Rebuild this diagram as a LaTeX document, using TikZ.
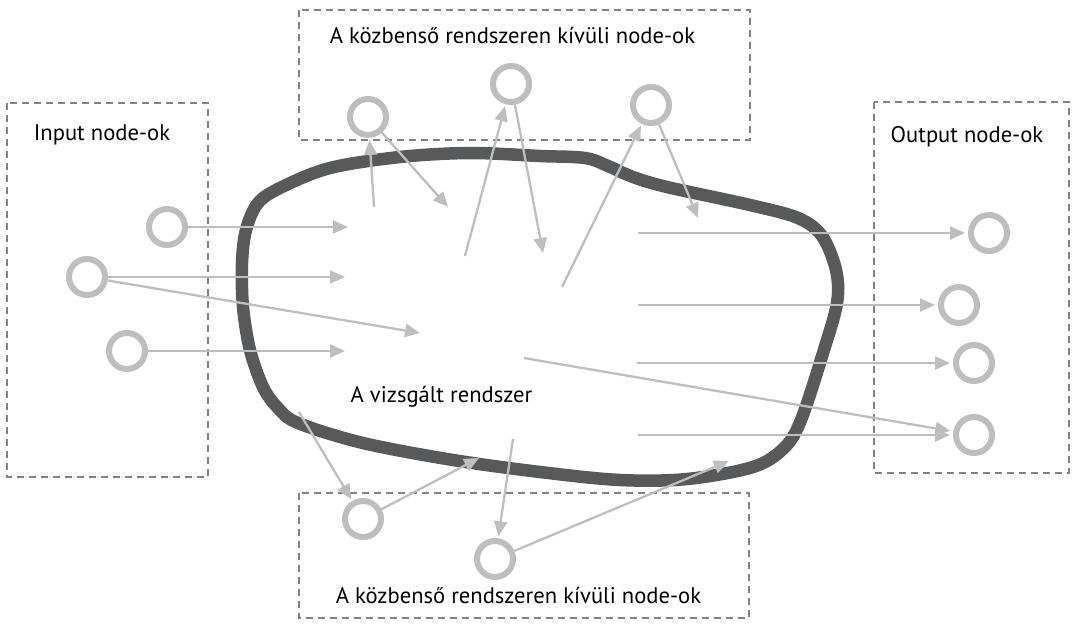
\documentclass[tikz,border=0pt]{standalone}
\usepackage{fontspec}
\setmainfont{PT Sans}
\usetikzlibrary{arrows.meta}
\definecolor{blobgray}{HTML}{58595B}
\definecolor{lightg}{HTML}{BCBEC0}
\definecolor{boxgray}{HTML}{808285}
\begin{document}
\begin{tikzpicture}[x=1pt,y=-1pt,
  dashbox/.style={draw=boxgray,line width=2pt,dash pattern=on 7pt off 5pt},
  nd/.style={circle,draw=lightg,line width=6pt,minimum size=36pt,inner sep=0pt},
  conn/.style={draw=lightg,line width=2.3pt,-{Triangle[length=15pt,width=13pt]}},
  lbl/.style={anchor=base,font=\fontsize{22.6}{26}\selectfont,text=black,inner sep=0pt}]
\path[fill=white] (0,0) rectangle (1076,624);
\useasboundingbox (0,0) rectangle (1076,624);
% dashed group boxes
\draw[dashbox] (7,103) rectangle (208,477);
\draw[dashbox] (299,10) rectangle (750,140);
\draw[dashbox] (874,102) rectangle (1069,473);
\draw[dashbox] (299,493) rectangle (749,618);
% the system outline
\draw[blobgray,line width=12.5pt,line join=round] plot[smooth cycle,tension=0.55] coordinates {
 (242,263) (246,230) (258,203) (282,187) (330,168) (400,157) (470,153) (540,156)
 (585,158) (608,166) (633,177) (667,187) (750,205) (798,218) (822,236) (836,270)
 (837,303) (823,353) (801,420) (784,448) (753,467) (687,479) (620,480) (540,472)
 (453,460) (363,443) (298,423) (278,408) (263,387) (250,350) (243,307)};
% labels
\node[lbl] (ttop) at (512.5,43) {A közbenső rendszeren kívüli node-ok};
\node[lbl] (tbot) at (518.5,603) {A közbenső rendszeren kívüli node-ok};
\node[lbl] (tin) at (102,140) {Input node-ok};
\node[lbl] (tout) at (967,142) {Output node-ok};
\node[lbl] (tsys) at (441.5,402) {A vizsgált rendszer};
% nodes
\node[nd] (i1) at (167,227) {};
\node[nd] (i2) at (87,277) {};
\node[nd] (i3) at (127,351) {};
\node[nd] (t1) at (368,117) {};
\node[nd] (t2) at (511,84) {};
\node[nd] (t3) at (651,105) {};
\node[nd] (o1) at (989,233) {};
\node[nd] (o2) at (959,305) {};
\node[nd] (o3) at (974,363) {};
\node[nd] (o4) at (974,435) {};
\node[nd] (b1) at (363,519) {};
\node[nd] (b2) at (495,559) {};
% free ends inside the system
\coordinate (ei1) at (348,227);
\coordinate (ei2) at (345,277);
\coordinate (ei2b) at (420,333);
\coordinate (ei3) at (345,351);
\coordinate (st1) at (374,207);
\coordinate (et1) at (448,207);
\coordinate (st2) at (465,256);
\coordinate (et2) at (543,253);
\coordinate (st3) at (562,287);
\coordinate (et3) at (698,218);
\coordinate (so1) at (638,233);
\coordinate (so2) at (638,305);
\coordinate (so3) at (637,363);
\coordinate (so4) at (638,435);
\coordinate (so4b) at (524,358);
\coordinate (sb1) at (299,412);
\coordinate (eb1) at (479,458);
\coordinate (sb2) at (513,439);
\coordinate (eb2) at (729,461);
% connectors
\draw[conn] (i1) -- (ei1);
\draw[conn] (i2) -- (ei2);
\draw[conn] (i2) -- (ei2b);
\draw[conn] (i3) -- (ei3);
\draw[conn,shorten >=2pt] (st1) -- (t1);
\draw[conn] (t1) -- (et1);
\draw[conn,shorten >=2pt] (st2) -- (t2);
\draw[conn] (t2) -- (et2);
\draw[conn,shorten >=2pt] (st3) -- (t3);
\draw[conn] (t3) -- (et3);
\draw[conn,shorten >=3pt] (so1) -- (o1);
\draw[conn,shorten >=3pt] (so2) -- (o2);
\draw[conn,shorten >=3pt] (so3) -- (o3);
\draw[conn,shorten >=3pt] (so4) -- (o4);
\draw[conn,shorten >=3pt] (so4b) -- (o4);
\draw[conn,shorten >=2pt] (sb1) -- (b1);
\draw[conn] (b1) -- (eb1);
\draw[conn,shorten >=2pt] (sb2) -- (b2);
\draw[conn] (b2) -- (eb2);
\end{tikzpicture}
\end{document}
